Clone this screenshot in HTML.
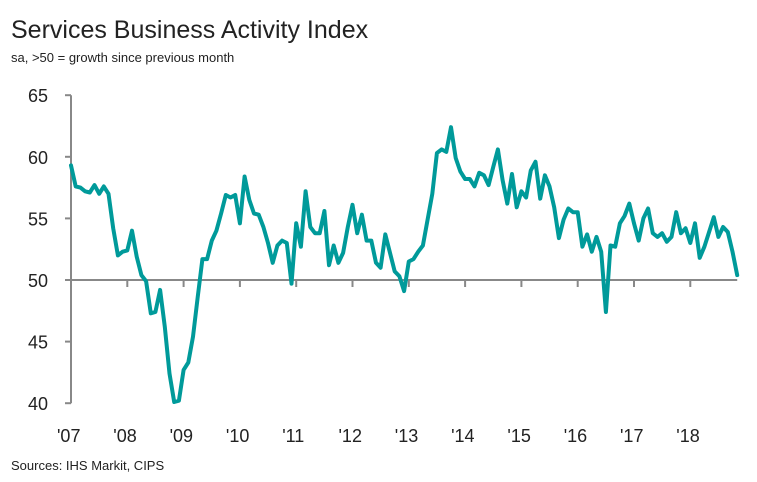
<!DOCTYPE html>
<html><head><meta charset="utf-8"><style>
body{margin:0;background:#fff;width:757px;height:477px;overflow:hidden;font-family:"Liberation Sans",sans-serif;}
</style></head><body>
<svg id="chart" width="757" height="477" xmlns="http://www.w3.org/2000/svg">
<text x="11" y="38" font-size="25" fill="#222">Services Business Activity Index</text>
<text x="11" y="62" font-size="13" fill="#222">sa, &gt;50 = growth since previous month</text>
<text x="11" y="470" font-size="13" fill="#222">Sources: IHS Markit, CIPS</text>
<g id="axes"></g>
<path id="series" fill="none" stroke="#009a9a" stroke-width="4" stroke-linejoin="round" stroke-linecap="round"/>
</svg>
<script>
const yTicks=[40,45,50,55,60,65];
const yearLabels=["'07","'08","'09","'10","'11","'12","'13","'14","'15","'16","'17","'18"];
const values=[59.3,57.6,57.5,57.2,57.1,57.7,57.0,57.6,57.0,54.2,52.0,52.3,52.4,54.0,51.9,50.4,49.9,47.3,47.4,49.2,46.2,42.4,40.1,40.2,42.7,43.3,45.4,48.6,51.7,51.7,53.2,54.0,55.4,56.9,56.7,56.9,54.6,58.4,56.5,55.4,55.3,54.3,53.0,51.4,52.8,53.2,53.0,49.7,54.6,52.7,57.2,54.3,53.8,53.8,55.6,51.2,52.8,51.4,52.2,54.3,56.1,53.8,55.3,53.2,53.2,51.4,51.0,53.7,52.2,50.7,50.3,49.1,51.5,51.7,52.3,52.8,54.9,57.0,60.3,60.6,60.4,62.4,59.9,58.8,58.2,58.2,57.6,58.7,58.5,57.7,59.2,60.6,58.1,56.2,58.6,55.9,57.2,56.7,58.9,59.6,56.6,58.5,57.6,55.9,53.4,54.9,55.8,55.5,55.5,52.7,53.7,52.3,53.5,52.3,47.4,52.8,52.7,54.6,55.2,56.2,54.6,53.2,55.0,55.8,53.8,53.5,53.8,53.1,53.5,55.5,53.8,54.2,53.0,54.6,51.8,52.7,53.9,55.1,53.5,54.3,53.9,52.3,50.4];
const X0=71, MW=56.3/12;
function x(i){return X0+i*MW;}
function y(v){return 280-(v-50)*12.32;}
const svg=document.getElementById('chart'), ax=document.getElementById('axes'), NS="http://www.w3.org/2000/svg";
function mk(t,a){const e=document.createElementNS(NS,t);for(const k in a)e.setAttribute(k,a[k]);ax.appendChild(e);return e;}
const ya=mk('line',{x1:X0,x2:X0,y1:y(65),y2:y(40),stroke:'#888','stroke-width':2});


yTicks.forEach(v=>{
  const t=mk('line',{x1:X0-6,x2:X0,y1:y(v),y2:y(v),stroke:'#888','stroke-width':2});
  
  
  const l=mk('text',{x:48,y:y(v)+7,'font-size':18,'text-anchor':'end',fill:'#222'});
  l.textContent=v;
  
  
});
const xa=mk('line',{x1:X0,x2:x(values.length-1),y1:y(50),y2:y(50),stroke:'#888','stroke-width':2});


yearLabels.forEach((s,k)=>{
  const xi=x(k*12);
  const t=mk('line',{x1:xi,x2:xi,y1:y(50),y2:y(50)+7,stroke:'#888','stroke-width':2});
  
  
  const l=mk('text',{x:xi-14,y:442,'font-size':18,fill:'#222'});
  l.textContent=s;
  
  
});
document.getElementById('series').setAttribute('d',values.map((v,i)=>(i?'L':'M')+x(i).toFixed(1)+' '+y(v).toFixed(1)).join(' '));
</script>
</body></html>
